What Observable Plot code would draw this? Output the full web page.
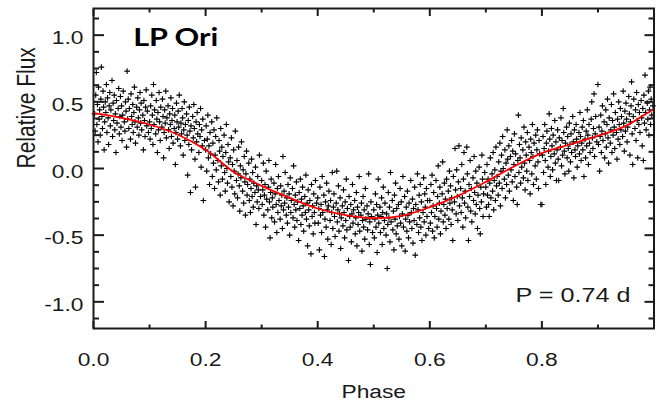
<!DOCTYPE html>
<html>
<head>
<meta charset="utf-8">
<script src="https://cdn.jsdelivr.net/npm/d3@7"></script>
<script src="https://cdn.jsdelivr.net/npm/@observablehq/plot@0.6"></script>
<style>
  html, body { margin: 0; padding: 0; background: #fff; }
  #chart { width: 664px; height: 402px; overflow: hidden; }
</style>
</head>
<body>
<div id="chart"></div>
<script>
// ---- Data (phase in thousandths, relative flux in hundredths) ----
const obs0 = [[2,41],[3,28],[4,55],[5,72],[6,33],[7,48],[8,20],[9,61],[10,37],[11,44],[12,25],[13,52],[14,76],[15,39],[16,30],[17,58],[18,46],[19,14],[20,35],[21,50],[22,42],[23,63],[24,27],[25,53],[26,38],[27,18],[28,47],[29,57],[30,32],[31,44],[33,66],[34,24],[35,49],[36,36],[37,55],[38,29],[39,41],[40,12],[41,51],[42,34],[44,45],[45,60],[46,26],[47,39],[48,54],[49,31],[50,47],[51,21],[52,40],[53,58],[55,35],[56,28],[57,50],[58,43],[59,16],[60,73],[61,37],[62,52],[63,30],[64,45],[66,22],[67,56],[68,39],[69,33],[70,48],[71,27],[72,42],[73,61],[74,35],[75,19],[77,46],[78,31],[79,53],[80,38],[81,25],[82,44],[83,57],[84,34],[85,49],[86,29],[88,40],[89,14],[90,51],[91,36],[92,24],[93,46],[94,59],[95,32],[96,43],[98,27]];
const obs1 = [[100,35],[101,22],[102,47],[103,30],[104,55],[105,40],[106,18],[107,63],[108,33],[109,44],[111,26],[112,51],[113,37],[114,12],[115,42],[116,29],[117,57],[118,35],[119,21],[120,46],[122,31],[123,52],[124,39],[125,8],[126,27],[127,44],[128,34],[129,58],[130,23],[131,38],[133,47],[134,29],[135,15],[136,41],[137,33],[138,53],[139,24],[140,36],[141,45],[142,19],[144,30],[145,40],[146,3],[147,27],[148,49],[149,35],[150,22],[151,43],[152,31],[153,55],[155,17],[156,34],[157,26],[158,45],[159,38],[160,10],[161,29],[162,50],[163,21],[164,33],[166,41],[167,25],[168,-5],[169,36],[170,18],[171,46],[172,28],[173,-18],[174,32],[175,14],[177,39],[178,23],[179,48],[180,30],[181,7],[182,-14],[183,35],[184,20],[185,42],[186,26],[188,12],[189,33],[190,24],[191,45],[192,1],[193,29],[194,17],[195,37],[196,-24],[198,21]];
const obs2 = [[200,14],[201,32],[202,-2],[203,22],[204,40],[205,8],[206,17],[207,-12],[208,27],[209,11],[211,35],[212,-6],[213,19],[214,4],[215,29],[216,-15],[217,10],[218,24],[219,-1],[220,38],[222,6],[223,-10],[224,21],[225,13],[226,-20],[227,30],[228,2],[229,16],[230,-8],[231,9],[233,25],[234,-3],[235,-17],[236,12],[237,33],[238,0],[239,-11],[240,18],[241,5],[242,-25],[244,8],[245,-6],[246,23],[247,-14],[248,3],[249,-28],[250,14],[251,-2],[252,-19],[253,28],[255,-9],[256,6],[257,-22],[258,-4],[259,16],[260,-13],[261,-32],[262,2],[263,-7],[264,20],[266,-17],[267,-1],[268,-26],[269,9],[270,-10],[271,-35],[272,-4],[273,13],[274,-20],[275,-12],[277,4],[278,-24],[279,-8],[280,-33],[281,-15],[282,7],[283,-21],[284,-3],[285,-29],[286,-11],[288,-18],[289,1],[290,-42],[291,-13],[292,-25],[293,-6],[294,-16],[295,-30],[296,10],[298,-21]];
const obs3 = [[300,-9],[301,-27],[302,-16],[303,4],[304,-35],[305,-20],[306,-12],[307,-44],[308,-2],[309,-23],[311,-31],[312,-14],[313,6],[314,-25],[315,-52],[316,-18],[317,-8],[318,-37],[319,-22],[320,-29],[322,-11],[323,-40],[324,-19],[325,3],[326,-27],[327,-48],[328,-15],[329,-33],[330,-6],[331,-24],[333,-38],[334,-13],[335,-28],[336,-20],[337,-45],[338,9],[339,-31],[340,-17],[341,-26],[342,-3],[344,-35],[345,-22],[346,-41],[347,-12],[348,-29],[349,-19],[350,-50],[351,-7],[352,-33],[353,-24],[355,-15],[356,-37],[357,2],[358,-27],[359,-44],[360,-20],[361,-31],[362,-10],[363,-39],[364,-25],[366,-54],[367,-18],[368,-30],[369,-8],[370,-42],[371,-23],[372,-35],[373,-14],[374,-28],[375,-47],[377,-21],[378,-33],[379,-5],[380,-38],[381,-26],[382,-58],[383,-16],[384,-31],[385,-43],[386,-24],[388,-64],[389,-12],[390,-36],[391,-28],[392,-49],[393,-19],[394,-33],[395,-41],[396,-9],[398,-26]];
const obs4 = [[400,-22],[401,-41],[402,-30],[403,-61],[404,-14],[405,-35],[406,-27],[407,-48],[408,-6],[409,-33],[411,-20],[412,-66],[413,-38],[414,-25],[415,-44],[416,-11],[417,-31],[418,-53],[419,-28],[420,-17],[422,-39],[423,-24],[424,-57],[425,-33],[426,-3],[427,-45],[428,-29],[429,-19],[430,-36],[431,-51],[433,-26],[434,-2],[435,-40],[436,-31],[437,-13],[438,-47],[439,-34],[440,-22],[441,-60],[442,-37],[444,-28],[445,-43],[446,-16],[447,-33],[448,-52],[449,-25],[450,-39],[451,-8],[452,-46],[453,-30],[455,-69],[456,-21],[457,-36],[458,-44],[459,-27],[460,-55],[461,-34],[462,-12],[463,-41],[464,-31],[466,-24],[467,-49],[468,-37],[469,-18],[470,-58],[471,-29],[472,-42],[473,-33],[474,-6],[475,-47],[477,-35],[478,-26],[479,-62],[480,-39],[481,-21],[482,-44],[483,-31],[484,-53],[485,-15],[486,-38],[488,-28],[489,-46],[490,-34],[491,-4],[492,-57],[493,-40],[494,-72],[495,-25],[496,-36],[498,-48]];
const obs5 = [[500,-31],[501,-52],[502,-38],[503,-19],[504,-44],[505,-27],[506,-63],[507,-35],[508,-8],[509,-41],[511,-29],[512,-48],[513,-36],[514,-22],[515,-57],[516,-33],[517,-14],[518,-45],[519,-39],[520,-26],[522,-50],[523,-34],[524,-75],[525,-42],[526,-18],[527,-37],[528,-29],[529,-55],[530,-3],[531,-40],[533,-24],[534,-46],[535,-32],[536,-61],[537,-20],[538,-38],[539,-11],[540,-49],[541,-30],[542,-43],[544,-27],[545,-53],[546,-36],[547,-15],[548,-41],[549,-25],[550,-58],[551,-34],[552,-6],[553,-44],[555,-21],[556,-62],[557,-38],[558,-29],[559,-47],[560,-17],[561,-35],[562,-52],[563,-26],[564,-40],[566,-9],[567,-33],[568,-45],[569,-23],[570,-56],[571,-30],[572,-39],[573,-14],[574,-65],[575,-27],[577,-42],[578,-4],[579,-31],[580,-48],[581,-20],[582,-37],[583,-12],[584,-44],[585,-25],[586,-54],[588,-33],[589,-7],[590,-40],[591,-19],[592,-29],[593,-50],[594,-15],[595,-36],[596,-24],[598,-45]];
const obs6 = [[600,-24],[601,-41],[602,-12],[603,-33],[604,-5],[605,-47],[606,-28],[607,-18],[608,-52],[609,-36],[611,-9],[612,-30],[613,-44],[614,-21],[615,2],[616,-38],[617,-26],[618,-14],[619,-49],[620,-32],[622,-19],[623,5],[624,-40],[625,-27],[626,-11],[627,-35],[628,-23],[629,-45],[630,-8],[631,-30],[633,-17],[634,-38],[635,-2],[636,-26],[637,-13],[638,-42],[639,-22],[640,-31],[641,-54],[642,-6],[644,-25],[645,15],[646,-16],[647,-34],[648,-1],[649,-21],[650,-39],[651,-10],[652,17],[653,-28],[655,-15],[656,-33],[657,3],[658,-22],[659,-44],[660,-8],[661,12],[662,-26],[663,-17],[664,-37],[666,16],[667,-4],[668,-29],[669,-54],[670,-12],[671,-21],[672,6],[673,-32],[674,-15],[675,-40],[677,-7],[678,-24],[679,9],[680,-18],[681,-34],[682,-2],[683,-27],[684,-11],[685,-45],[686,-20],[688,1],[689,-30],[690,-49],[691,-14],[692,-25],[693,10],[694,-8],[695,-36],[696,-19],[698,-3]];
const obs7 = [[700,-14],[701,-29],[702,3],[703,-20],[704,-8],[705,-27],[706,-36],[707,-11],[708,8],[709,-22],[711,-4],[712,-17],[713,12],[714,-31],[715,-9],[716,-1],[717,-24],[718,16],[719,-13],[720,-6],[722,-20],[723,5],[724,-11],[725,19],[726,-28],[727,-2],[728,10],[729,-15],[730,24],[731,0],[733,-8],[734,14],[735,-22],[736,4],[737,-12],[738,29],[739,7],[740,-5],[741,17],[742,-17],[744,9],[745,-1],[746,21],[747,-10],[748,13],[749,-24],[750,3],[751,26],[752,-6],[753,11],[755,-14],[756,-27],[757,6],[758,40],[759,-3],[760,18],[761,8],[762,-11],[763,23],[764,1],[766,14],[767,-7],[768,31],[769,4],[770,-16],[771,20],[772,10],[773,-2],[774,27],[775,-9],[777,16],[778,6],[779,-19],[780,22],[781,12],[782,-4],[783,33],[784,9],[785,-12],[786,19],[788,2],[789,25],[790,-8],[791,14],[792,29],[793,5],[794,-15],[795,21],[796,11],[798,-27]];
const obs8 = [[800,-27],[801,10],[802,24],[803,-3],[804,15],[805,33],[806,6],[807,-12],[808,19],[809,28],[811,1],[812,13],[813,41],[814,22],[815,-6],[816,9],[817,30],[818,17],[819,-1],[820,25],[822,11],[823,36],[824,4],[825,20],[826,-9],[827,14],[828,29],[829,7],[830,-9],[831,23],[833,16],[834,38],[835,2],[836,21],[837,10],[838,45],[839,27],[840,13],[841,-4],[842,19],[844,31],[845,8],[846,24],[847,15],[848,-2],[849,34],[850,18],[851,5],[852,26],[853,12],[855,39],[856,20],[857,-7],[858,29],[859,14],[860,9],[861,33],[862,22],[863,1],[864,17],[866,27],[867,11],[868,42],[869,24],[870,6],[871,19],[872,31],[873,14],[874,36],[875,-6],[877,22],[878,8],[879,28],[880,17],[881,44],[882,25],[883,3],[884,33],[885,19],[886,12],[888,37],[889,50],[890,23],[891,15],[892,30],[893,56],[894,9],[895,26],[896,39],[898,20]];
const obs9 = [[900,63],[901,18],[902,31],[903,-2],[904,24],[905,40],[906,12],[907,28],[908,47],[909,21],[911,35],[912,8],[913,26],[914,44],[915,16],[916,33],[917,52],[918,23],[919,4],[920,38],[922,19],[923,29],[924,48],[925,12],[926,36],[927,25],[928,56],[929,31],[930,15],[931,42],[933,27],[934,7],[935,37],[936,22],[937,50],[938,33],[939,18],[940,45],[941,29],[942,39],[944,24],[945,58],[946,34],[947,13],[948,43],[949,28],[950,49],[951,37],[952,20],[953,31],[955,54],[956,41],[957,10],[958,35],[959,47],[960,65],[961,26],[962,3],[963,39],[964,52],[966,30],[967,44],[968,21],[969,57],[970,36],[971,8],[972,48],[973,33],[974,42],[975,27],[977,51],[978,38],[979,17],[980,45],[981,6],[982,55],[983,34],[984,70],[985,42],[986,29],[988,49],[989,37],[990,58],[991,25],[992,44],[993,61],[994,33],[995,52],[996,40],[998,47]];

// Fitted model curve (red line)
const fitPhase = [0, 0.05, 0.10, 0.15, 0.20, 0.25, 0.30, 0.35, 0.40, 0.45, 0.50, 0.55, 0.60, 0.65, 0.70, 0.75, 0.80, 0.85, 0.90, 0.95, 0.98, 1.00];
const fitFlux  = [0.415, 0.38, 0.33, 0.255, 0.14, -0.025, -0.13, -0.22, -0.30, -0.35, -0.373, -0.355, -0.29, -0.205, -0.10, 0.015, 0.115, 0.18, 0.245, 0.32, 0.395, 0.445];

// Axis ticks and annotations
const xMajorTicks = [0, 0.2, 0.4, 0.6, 0.8, 1.0];
const xLabelTicks = [0, 0.2, 0.4, 0.6, 0.8];
const xMinorTicks = [0.1, 0.3, 0.5, 0.7, 0.9];
const yMajorTicks = [-1, -0.5, 0, 0.5, 1];
const yMinorTicks = [-1.125, -0.875, -0.75, -0.625, -0.375, -0.25, -0.125, 0.125, 0.25, 0.375, 0.625, 0.75, 0.875, 1.125];
const titleText = "LP Ori";
const periodText = "P = 0.74 d";
const xTitle = "Phase";
const yTitle = "Relative Flux";

// ---- Build tables ----
const observations = [obs0, obs1, obs2, obs3, obs4, obs5, obs6, obs7, obs8, obs9]
  .flat().map(([p, f]) => ({phase: p / 1000, flux: f / 100}));
const fit = fitPhase.map((p, i) => ({phase: p, flux: fitFlux[i]}));

const ink = "#1a1a1a";
const fmt = d => d.toFixed(1);

const svg = Plot.plot({
  width: 664,
  height: 402,
  marginLeft: 93,
  marginRight: 10.5,
  marginTop: 8,
  marginBottom: 74,
  style: {fontFamily: '"Liberation Sans", Arial, Helvetica, sans-serif', background: "#fff", color: ink},
  x: {domain: [0, 1]},
  y: {domain: [-1.2, 1.2]},
  marks: [
    Plot.dot(observations, {x: "phase", y: "flux", symbol: "plus", r: 2, stroke: "#000", strokeWidth: 1.1}),
    Plot.line(fit, {x: "phase", y: "flux", stroke: "#ff0000", strokeWidth: 1.8, curve: "catmull-rom"}),
    // inward ticks on all four sides
    Plot.axisX(xMajorTicks, {anchor: "bottom", tickSize: -7, fill: "none", label: null, stroke: ink, strokeWidth: 2}),
    Plot.axisX(xMinorTicks, {anchor: "bottom", tickSize: -3.5, fill: "none", label: null, stroke: ink, strokeWidth: 2}),
    Plot.axisX(xMajorTicks, {anchor: "top", tickSize: -7, fill: "none", label: null, stroke: ink, strokeWidth: 2}),
    Plot.axisX(xMinorTicks, {anchor: "top", tickSize: -3.5, fill: "none", label: null, stroke: ink, strokeWidth: 2}),
    Plot.axisY(yMajorTicks, {anchor: "left", tickSize: -11, fill: "none", label: null, stroke: ink, strokeWidth: 2}),
    Plot.axisY(yMinorTicks, {anchor: "left", tickSize: -6, fill: "none", label: null, stroke: ink, strokeWidth: 2}),
    Plot.axisY(yMajorTicks, {anchor: "right", tickSize: -10, fill: "none", label: null, stroke: ink, strokeWidth: 2}),
    Plot.axisY(yMinorTicks, {anchor: "right", tickSize: -6, fill: "none", label: null, stroke: ink, strokeWidth: 2}),
    // tick labels
    Plot.axisX(xLabelTicks, {anchor: "bottom", tickSize: 0, tickPadding: 24, tickFormat: fmt, fontSize: 19, fill: ink, label: null}),
    Plot.axisY(yMajorTicks, {anchor: "left", tickSize: 0, tickPadding: 10, tickFormat: fmt, fontSize: 19, fill: ink, dy: 3, label: null}),
    Plot.frame({stroke: ink, strokeWidth: 2}),
    // titles and annotations
    Plot.text([xTitle], {text: d => d, frameAnchor: "bottom", dy: 69.3, lineAnchor: "bottom", fontSize: 19, fill: ink}),
    Plot.text([yTitle], {text: d => d, frameAnchor: "left", dx: -59, rotate: -90, lineAnchor: "bottom", fontSize: 21, fill: ink}),
    Plot.text([titleText], {text: d => d, frameAnchor: "top-left", dx: 39.7, dy: 37, textAnchor: "start", lineAnchor: "bottom", fontSize: 25.5, fontWeight: "bold", fontFamily: "Lato, 'Open Sans', sans-serif", fill: "#000"}),
    Plot.text([periodText], {text: d => d, frameAnchor: "bottom-right", dx: -23.5, dy: -26.3, textAnchor: "end", lineAnchor: "bottom", fontSize: 21, fill: ink})
  ]
});

document.getElementById("chart").append(svg);

// The reference typography is horizontally stretched (~1.2x); reproduce that around each text anchor.
svg.querySelectorAll("text").forEach(t => {
  const tr = t.getAttribute("transform") || "";
  if (/rotate/.test(tr)) { t.setAttribute("transform", tr + " scale(1,1.2)"); return; }
  const b = t.getBBox();
  const a = getComputedStyle(t).textAnchor;
  const ax = a === "middle" ? b.x + b.width / 2 : a === "end" ? b.x + b.width : b.x;
  t.setAttribute("transform", `${tr} translate(${ax},0) scale(1.2,1) translate(${-ax},0)`);
});
</script>
</body>
</html>
